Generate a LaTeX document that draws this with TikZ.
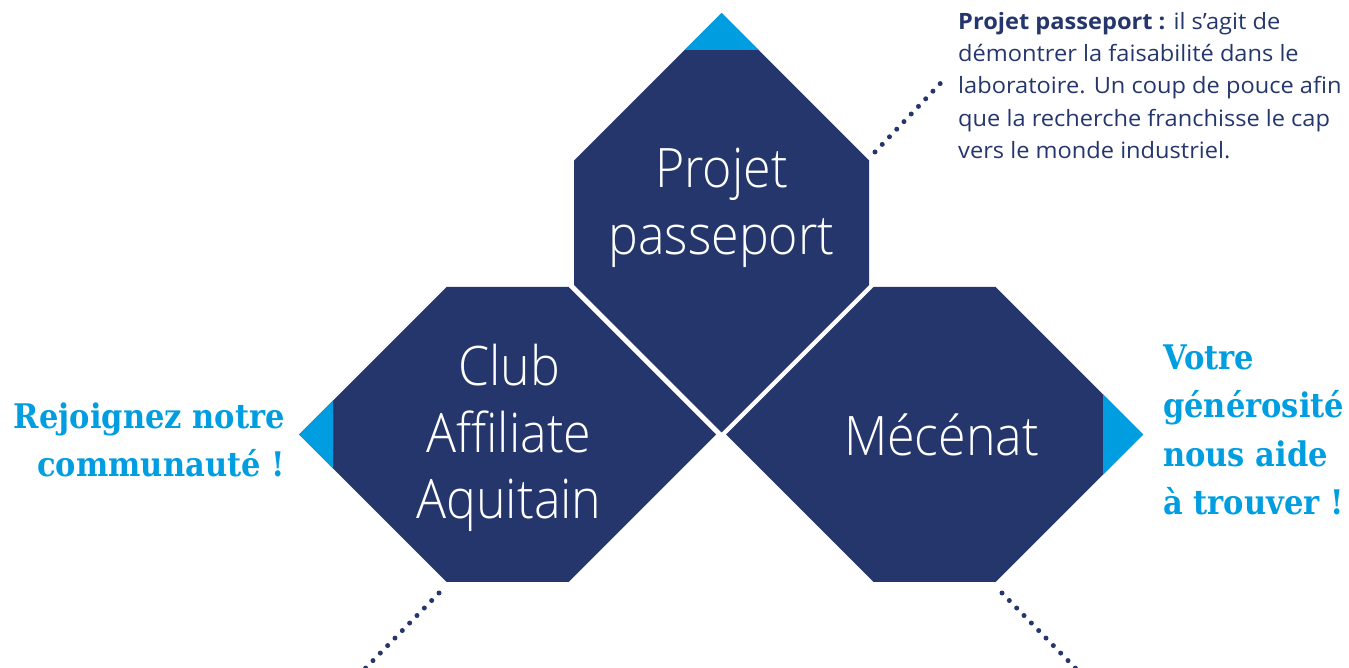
\documentclass[tikz,border=0pt]{standalone}
\usepackage{fontspec}
\setmainfont{Open Sans}[FakeStretch=1.05]
\newfontfamily\hexfont{Open Sans}[UprightFont=* Light, FakeStretch=0.92]
\newfontfamily\slabfont{DejaVu Serif}[FakeStretch=0.9]
\definecolor{navy}{RGB}{37,54,108}
\definecolor{skyblue}{RGB}{0,158,224}
\tikzset{
  hexa/.style={fill=navy},
  tipfill/.style={fill=skyblue},
  hextext/.style={text=white, align=center, font=\hexfont\fontsize{31pt}{38pt}\selectfont},
  slogan/.style={text=skyblue, font=\slabfont\bfseries\fontsize{19.3pt}{27.5pt}\selectfont},
  desc/.style={text=navy, align=left, font=\fontsize{12.8pt}{18.4pt}\selectfont},
  dotline/.style={navy, line width=0.1cm, line cap=round, dash pattern=on 0pt off 0.21cm}
}
\begin{document}
\begin{tikzpicture}[x=0.02cm, y=-0.02cm]
  \clip (0,0) rectangle (1349,668); % frame

  \fill[hexa] (721.5,13) -- (869,160.5) -- (869,285) -- (721.5,432.5) -- (574,285) -- (574,160.5) -- cycle; % top hexagon
  \fill[tipfill] (721.5,13) -- (758.5,50) -- (684.5,50) -- cycle; % top tip
  \fill[hexa] (299,434.5) -- (446.5,287) -- (568.5,287) -- (716,434.5) -- (568.5,582) -- (446.5,582) -- cycle; % left hexagon
  \fill[tipfill] (299,434.5) -- (333,400.5) -- (333,468.5) -- cycle; % left tip
  \fill[hexa] (726,434.5) -- (873.5,287) -- (995.5,287) -- (1143,434.5) -- (995.5,582) -- (873.5,582) -- cycle; % right hexagon
  \fill[tipfill] (1143,434.5) -- (1103,394.5) -- (1103,474.5) -- cycle; % right tip

  \node[hextext] (pass) at (721.5,208) {Projet\\passeport};
  \node[hextext] (club) at (509,438) {Club\\Affiliate\\Aquitain};
  \node[hextext] (mecenat) at (941.5,435) {Mécénat};

  \node[slogan, align=right, anchor=east] (join) at (291,440) {Rejoignez notre\\communauté !};
  \node[slogan, align=left, anchor=west] (gift) at (1157,430) {Votre\\générosité\\nous aide\\à trouver !};
  \node[desc, anchor=north west] (passdesc) at (952,6) {\textbf{Projet passeport :} il s’agit de\\démontrer la faisabilité dans le\\laboratoire. Un coup de pouce afin\\que la recherche franchisse le cap\\vers le monde industriel.};

  \coordinate (passcorner) at (875,152);
  \coordinate (clubcorner) at (439,593);
  \coordinate (clubend) at (355,679);
  \coordinate (mecenatcorner) at (1002,593);
  \coordinate (mecenatend) at (1086,679);
  \draw[dotline] (passcorner) -- ([xshift=-0.14cm,yshift=0.14cm]passdesc.west); % to text
  \draw[dotline] (clubcorner) -- (clubend);
  \draw[dotline] (mecenatcorner) -- (mecenatend);
\end{tikzpicture}
\end{document}
